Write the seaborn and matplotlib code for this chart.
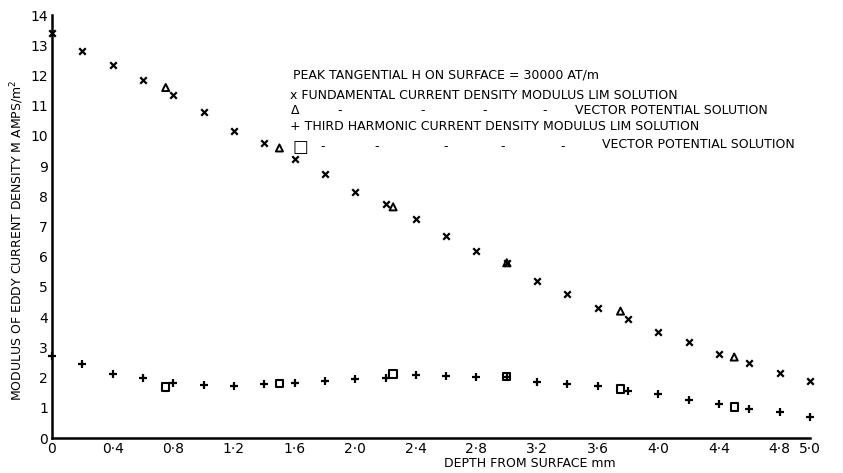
import matplotlib
matplotlib.use("Agg")
import matplotlib.pyplot as plt
import seaborn as sns
import pandas as pd

# ---- data ----
depth_lim = [0.0, 0.2, 0.4, 0.6, 0.8, 1.0, 1.2, 1.4, 1.6, 1.8, 2.0, 2.2, 2.4,
             2.6, 2.8, 3.0, 3.2, 3.4, 3.6, 3.8, 4.0, 4.2, 4.4, 4.6, 4.8, 5.0]
fund_lim = [13.4, 12.8, 12.35, 11.85, 11.36, 10.8, 10.17, 9.77, 9.24, 8.74, 8.15,
            7.75, 7.25, 6.69, 6.19, 5.8, 5.2, 4.77, 4.3, 3.94, 3.5, 3.18, 2.78,
            2.48, 2.15, 1.89]
third_lim = [2.7, 2.45, 2.12, 1.98, 1.82, 1.75, 1.72, 1.78, 1.83, 1.89, 1.95,
             1.99, 2.09, 2.05, 2.03, 2.03, 1.86, 1.78, 1.72, 1.56, 1.46, 1.26,
             1.13, 0.96, 0.86, 0.7]
depth_vp = [0.75, 1.5, 2.25, 3.0, 3.75, 4.5]
fund_vp = [11.6, 9.6, 7.65, 5.8, 4.2, 2.68]
third_vp = [1.69, 1.81, 2.12, 2.03, 1.62, 1.03]

xtick_vals = [0, 0.4, 0.8, 1.2, 1.6, 2.0, 2.4, 2.8, 3.2, 3.6, 4.0, 4.4, 4.8, 5.0]
xtick_labels = ["0", "0·4", "0·8", "1·2", "1·6", "2·0", "2·4", "2·8", "3·2",
                "3·6", "4·0", "4·4", "4·8", "5·0"]
ytick_vals = list(range(0, 15))

title_line = "PEAK TANGENTIAL H ON SURFACE = 30000 AT/m"
leg_fund_lim = "x FUNDAMENTAL CURRENT DENSITY MODULUS LIM SOLUTION"
leg_third_lim = "+ THIRD HARMONIC CURRENT DENSITY MODULUS LIM SOLUTION"
leg_vp = "VECTOR POTENTIAL SOLUTION"
xlabel = "DEPTH FROM SURFACE mm"
ylabel = "MODULUS OF EDDY CURRENT DENSITY M AMPS/m$^2$"

# ---- figure ----
sns.set_theme(style="white")
plt.rcParams['font.family'] = ['DejaVu Sans']
plt.rcParams['text.color'] = 'black'
W, H = 843, 473
fig = plt.figure(figsize=(W / 100, H / 100), dpi=100)
ax = fig.add_axes([52 / W, 1 - 438 / H, (810 - 52) / W, (438 - 15) / H])

df_lim = pd.DataFrame({"depth": depth_lim, "fund": fund_lim, "third": third_lim})
df_vp = pd.DataFrame({"depth": depth_vp, "fund": fund_vp, "third": third_vp})

sns.scatterplot(data=df_lim, x="depth", y="fund", marker="x", color="black",
                s=22, linewidth=1.6, ax=ax)
sns.scatterplot(data=df_vp, x="depth", y="fund", marker="^", color="black",
                s=26, linewidth=1.4, ax=ax)
ax.collections[-1].set_facecolor("none")
ax.collections[-1].set_edgecolor("black")
sns.scatterplot(data=df_lim, x="depth", y="third", marker="+", color="black",
                s=40, linewidth=1.6, ax=ax)
sns.scatterplot(data=df_vp, x="depth", y="third", marker="s", color="black",
                s=28, linewidth=1.5, ax=ax)
ax.collections[-1].set_facecolor("none")
ax.collections[-1].set_edgecolor("black")
for coll in ax.collections:
    coll.set_clip_on(False)

ax.set_xlim(0, 5.0)
ax.set_ylim(0, 14)
ax.set_xticks(xtick_vals)
ax.set_xticklabels(xtick_labels, fontsize=10)
ax.set_yticks(ytick_vals)
ax.set_yticklabels([str(v) for v in ytick_vals], fontsize=10)
ax.tick_params(axis="both", length=0, pad=3, colors="black")
ax.set_xlabel("")
ax.set_ylabel("")
for side in ["top", "right"]:
    ax.spines[side].set_visible(False)
for side in ["left", "bottom"]:
    ax.spines[side].set_color("black")
    ax.spines[side].set_linewidth(1.8)
ax.patch.set_alpha(0)


def px(x, y):
    return x / W, 1 - y / H


fs = 9
fig.text(*px(293, 75), title_line, fontsize=fs, va="center", ha="left")
fig.text(*px(290, 95), leg_fund_lim, fontsize=fs, va="center", ha="left")
fig.text(*px(291, 111), "Δ", fontsize=fs, va="center", ha="left")
for dx in [340, 423, 485, 545]:
    fig.text(*px(dx, 111), "-", fontsize=fs, va="center", ha="center")
fig.text(*px(575, 110), leg_vp, fontsize=fs, va="center", ha="left")
fig.text(*px(290, 126), leg_third_lim, fontsize=fs, va="center", ha="left")
fig.text(*px(292, 147), "□", fontsize=12, va="center", ha="left")
for dx in [323, 377, 446, 503, 563]:
    fig.text(*px(dx, 147), "-", fontsize=fs, va="center", ha="center")
fig.text(*px(602, 144), leg_vp, fontsize=fs, va="center", ha="left")

fig.text(*px(530, 463), xlabel, fontsize=9, va="center", ha="center")
fig.text(*px(17, 240), ylabel, fontsize=9, va="center", ha="center",
         rotation=90)

fig.savefig("out.png", dpi=100, facecolor="white")
